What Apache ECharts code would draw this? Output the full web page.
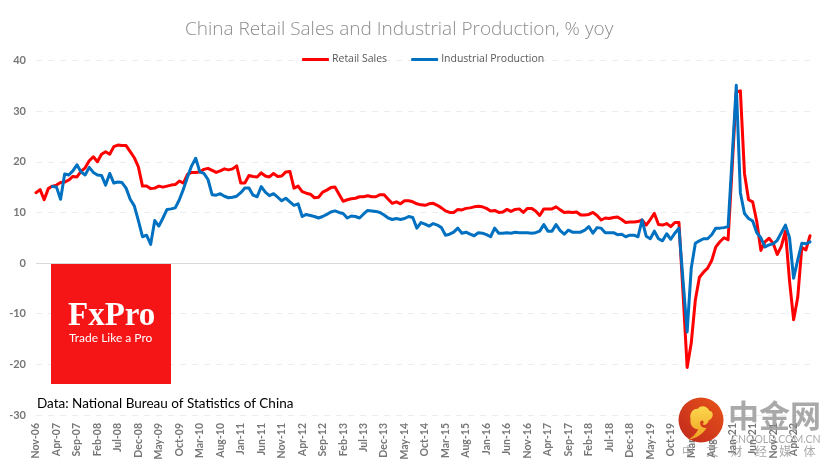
<!DOCTYPE html>
<html>
<head>
<meta charset="utf-8">
<script src="https://cdn.jsdelivr.net/npm/echarts@6/dist/echarts.min.js"></script>
<style>
  html, body { margin: 0; padding: 0; background: #fff; }
  #chart { width: 835px; height: 470px; }
</style>
</head>
<body>
<div id="chart"></div>
<script>
const firstYear = 2006;
const firstMonth = 10;
const monthNames = ["Jan", "Feb", "Mar", "Apr", "May", "Jun", "Jul", "Aug", "Sep", "Oct", "Nov", "Dec"];
const sloganChars = ["中", "文", "财", "经", "媒", "体"];

const retailSales = [
  13.9, 14.5, 12.5, 14.7, 15.2, 15.4, 15.9, 16, 16.4, 17.1, 17, 18.1, 18.8, 20.2, 21, 20, 21.5, 22, 21.5, 23,
  23.3, 23.2, 23.2, 22, 20.8, 19, 15.2, 15.2, 14.7, 14.8, 15.2, 15, 15.2, 15.4, 15.5, 16.2, 15.8, 17.5, 17.9, 17.9,
  18, 18.5, 18.7, 18.3, 17.9, 18.2, 18.6, 18.4, 18.6, 19.2, 15.8, 15.8, 17.3, 17.1, 17, 17.8, 17.2, 17, 17.7, 17.1,
  17.2, 18, 18.1, 14.8, 15.2, 14.1, 13.8, 13.6, 12.9, 13, 14, 14.4, 14.9, 15, 13.6, 12.2, 12.5, 12.7, 12.8, 13.1,
  13.1, 13.3, 13.1, 13.1, 13.5, 13.5, 12.6, 11.8, 12.1, 11.7, 12.3, 12.3, 12.1, 11.7, 11.5, 11.4, 11.7, 11.8, 11.4, 10.9,
  10.3, 10, 10, 10.6, 10.5, 10.8, 10.9, 11.1, 11.2, 11.1, 10.8, 10.3, 10.4, 10, 10.1, 10.6, 10.2, 10.6, 10.7, 10,
  10.8, 10.8, 10.3, 9.4, 10.7, 10.7, 10.7, 11.1, 10.5, 10, 10.1, 10, 10.1, 9.5, 9.5, 9.6, 10, 9.4, 8.5, 8.9,
  8.8, 9, 9.1, 8.6, 8, 8.1, 8.1, 8.2, 8.5, 7.5, 8.6, 9.8, 7.6, 7.5, 7.8, 7.2, 8, 8, -6, -20.6,
  -15.8, -7.3, -2.8, -1.8, -1, 0.5, 3.2, 4.2, 5, 4.6, 19, 33.8, 34, 17.7, 12.5, 12.1, 8.2, 2.5, 4.2, 4.9,
  3.9, 1.7, 3.3, 6.3, -3.5, -11.2, -6.8, 3.1, 2.6, 5.4
];

const industrialProduction = [
  null, null, null, null, 15.1, 15, 12.6, 17.6, 17.4, 18.2, 19.4, 18, 17.4, 18.9, 17.9, 17.4, 17.3, 15.4, 17.7, 15.8,
  16, 15.9, 14.8, 12.6, 11.3, 8.4, 5.2, 5.5, 3.7, 8.4, 7.3, 8.9, 10.6, 10.7, 10.9, 12.5, 14.6, 17, 19.2, 20.7,
  18, 17.7, 16.5, 13.5, 13.4, 13.7, 13.2, 12.9, 13, 13.2, 13.9, 14.8, 14.8, 13.4, 13.1, 15.1, 14, 13.3, 13.7, 13,
  12.3, 12.8, 12.1, 11.4, 11.7, 9.2, 9.6, 9.4, 9.2, 8.9, 9.2, 9.6, 10.1, 10.3, 10, 9.8, 8.9, 9.3, 9.2, 8.9,
  9.7, 10.4, 10.3, 10.2, 10, 9.5, 8.9, 8.6, 8.8, 8.6, 8.8, 9.2, 9, 6.9, 8, 7.7, 7.3, 7.8, 7.5, 7,
  5.5, 5.7, 6.1, 6.9, 5.9, 6.1, 5.7, 5.4, 6, 5.9, 5.6, 5.2, 6.9, 5.9, 5.9, 6, 5.9, 6.1, 6, 6,
  6, 5.9, 6, 6.3, 7.6, 6.3, 6.3, 7.6, 6.4, 5.7, 6.5, 6.1, 6.1, 6.1, 6.5, 7.2, 5.9, 7, 6.9, 6,
  6, 6, 5.6, 5.7, 5.2, 5.5, 5.5, 5.2, 8.5, 5.3, 4.8, 6.3, 4.8, 4.4, 5.8, 4.7, 5.9, 6.9, -3.5, -13.6,
  -1, 3.9, 4.4, 4.8, 4.8, 5.6, 6.9, 6.9, 7, 7.2, 21, 35.1, 13.9, 9.8, 8.8, 8.3, 6, 5, 3.2, 3.6,
  3.8, 4.5, 6, 7.5, 5, -3, 0.6, 3.9, 3.8, 4.2
];

const categories = retailSales.map((_, i) => {
  const m = firstMonth + i;
  const year = firstYear + Math.floor(m / 12);
  return monthNames[m % 12] + "-" + String(year).slice(2);
});

const labelGrey = "#767676";
const retailColor = "#ff0000";
const productionColor = "#0070c0";
const watermarkGrey = "rgba(140,140,140,0.75)";

// swirl in the watermark logo, drawn in a 100x100 box
echarts.graphic.registerShape("logoSwirl", echarts.graphic.extendPath(
  "M0 100 C30 96 58 82 72 64 C60 66 50 62 47 54 C45 46 52 40 58 44 C62 47 60 52 56 52 C62 60 76 54 80 42 C98 38 102 16 82 14 C74 0 50 -4 38 8 C18 6 4 22 10 40 C6 56 22 70 40 68 C30 84 14 94 0 100 Z",
  {}
));

const chart = echarts.init(document.getElementById("chart"), null, { renderer: "canvas" });

function lineSeries(name, data, color) {
  return {
    name: name,
    type: "line",
    data: data,
    showSymbol: false,
    symbol: "none",
    connectNulls: false,
    lineStyle: { color: color, width: 3, join: "round", cap: "round" },
    itemStyle: { color: color },
    animation: false
  };
}

chart.setOption({
  animation: false,
  backgroundColor: "#fff",
  title: {
    text: "China Retail Sales and Industrial Production, % yoy",
    left: 180,
    top: 15,
    textStyle: { fontFamily: "Open Sans", fontSize: 19, fontWeight: 300, color: "#8c8c8c" }
  },
  legend: {
    top: 49,
    left: 297,
    itemWidth: 27,
    itemHeight: 3,
    itemGap: 24,
    icon: "roundRect",
    textStyle: { fontFamily: "Open Sans", fontSize: 10.5, color: "#595959", padding: [0, 0, 0, -2] },
    data: ["Retail Sales", "Industrial Production"]
  },
  grid: { left: 36, right: 25, top: 60.5, bottom: 55 },
  xAxis: {
    type: "category",
    data: categories,
    boundaryGap: false,
    axisTick: { show: false },
    axisLine: { show: false, onZero: false },
    splitLine: { show: false },
    axisLabel: {
      interval: 4,
      rotate: 90,
      margin: 8,
      fontFamily: "Lato",
      fontSize: 10.5,
      fontWeight: "bold",
      color: labelGrey
    }
  },
  yAxis: {
    type: "value",
    min: -30,
    max: 40,
    interval: 10,
    axisLine: { show: false },
    axisTick: { show: false },
    axisLabel: {
      margin: 10,
      fontFamily: "Lato",
      fontSize: 11,
      fontWeight: "bold",
      color: labelGrey
    },
    splitLine: {
      show: true,
      lineStyle: { type: [6, 6], width: 1, color: "#ededed" }
    }
  },
  series: [
    Object.assign(lineSeries("Retail Sales", retailSales, retailColor), {
      markLine: {
        silent: true,
        symbol: "none",
        label: { show: false },
        lineStyle: { color: "#d9d9d9", width: 1.2, type: "solid" },
        data: [{ yAxis: 0 }],
        z: 1
      }
    }),
    lineSeries("Industrial Production", industrialProduction, productionColor)
  ],
  graphic: [
    { type: "rect", z: 10, shape: { x: 51, y: 264, width: 120, height: 120 }, style: { fill: "#f51416" } },
    { type: "text", z: 11, style: { x: 68, y: 300, text: "FxPro", fill: "#fff", font: "bold 33px 'Liberation Serif'" } },
    { type: "text", z: 11, style: { x: 69, y: 332, text: "Trade Like a Pro", fill: "#fff", font: "12px 'Lato'" } },
    { type: "text", z: 11, style: { x: 37, y: 397, text: "Data: National Bureau of Statistics of China", fill: "#000", font: "13.5px 'Lato'" } },
    {
      type: "circle", z: 12, shape: { cx: 701, cy: 420, r: 22.5 },
      style: {
        fill: new echarts.graphic.LinearGradient(0, 1, 1, 0, [
          { offset: 0, color: "#c0281c" },
          { offset: 1, color: "#e8541a" }
        ])
      }
    },
    {
      type: "logoSwirl", z: 13, x: 688, y: 406, scaleX: 0.26, scaleY: 0.34,
      style: {
        fill: new echarts.graphic.LinearGradient(0, 0, 0, 1, [
          { offset: 0, color: "#fbd84e" },
          { offset: 1, color: "#f0a020" }
        ])
      }
    },
    { type: "text", z: 12, style: { x: 728, y: 400, text: "中金网", fill: watermarkGrey, font: "bold 31px 'Noto Sans CJK SC'" } },
    { type: "text", z: 12, style: { x: 731, y: 434, text: "CNOOLD.COM.CN", fill: watermarkGrey, font: "10.5px 'Lato'" } }
  ].concat(sloganChars.map((ch, k) => ({
    type: "text", z: 12,
    style: { x: 682 + 24.3 * k, y: 445, text: ch, fill: watermarkGrey, font: "12px 'Noto Sans CJK SC'" }
  })))
});
</script>
</body>
</html>
